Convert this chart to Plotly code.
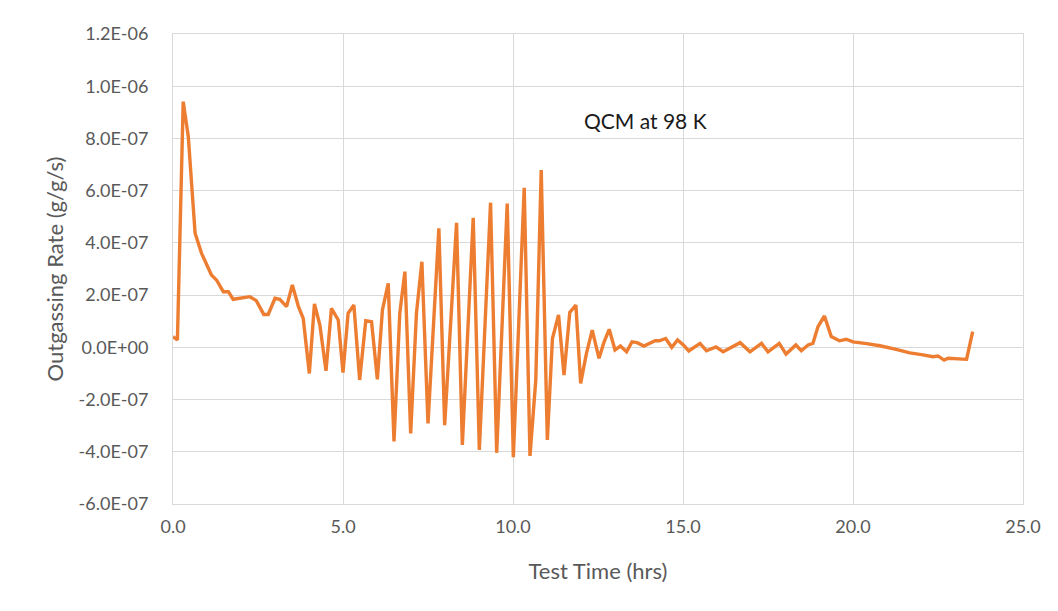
import plotly.graph_objects as go

time_hrs = [0.0, 0.13, 0.30, 0.45, 0.65, 0.84, 1.13, 1.28, 1.48, 1.63, 1.77, 2.26, 2.45, 2.67, 2.80,
            3.00, 3.14, 3.34, 3.51, 3.69, 3.83, 4.01, 4.16, 4.32, 4.50, 4.66, 4.86, 5.00, 5.15, 5.32,
            5.49, 5.67, 5.84, 6.01, 6.16, 6.33, 6.50, 6.67, 6.82, 6.99, 7.16, 7.32, 7.50, 7.65, 7.82,
            7.99, 8.17, 8.34, 8.51, 8.67, 8.83, 9.01, 9.17, 9.34, 9.52, 9.67, 9.83, 10.01, 10.17, 10.33,
            10.50, 10.67, 10.83, 11.01, 11.16, 11.34, 11.50, 11.67, 11.85, 11.99, 12.16, 12.33, 12.53,
            12.68, 12.83, 13.00, 13.16, 13.34, 13.50, 13.65, 13.85, 14.18, 14.30, 14.49, 14.67, 14.84,
            15.01, 15.17, 15.50, 15.69, 15.97, 16.18, 16.68, 16.97, 17.31, 17.50, 17.83, 18.03, 18.32,
            18.48, 18.68, 18.82, 18.97, 19.16, 19.36, 19.60, 19.80, 20.00, 20.40, 20.79, 21.27, 21.67,
            22.06, 22.35, 22.50, 22.68, 22.80, 23.34, 23.52]

# outgassing rate in units of 1E-07 g/g/s
rate_e7 = [0.41, 0.28, 9.41, 8.07, 4.37, 3.6, 2.77, 2.58, 2.13, 2.13, 1.84, 1.94, 1.79, 1.26, 1.26,
           1.88, 1.84, 1.56, 2.39, 1.56, 1.11, -1.0, 1.66, 0.85, -0.9, 1.49, 1.05, -0.97, 1.30, 1.62,
           -1.25, 1.02, 0.98, -1.23, 1.43, 2.45, -3.6, 1.3, 2.9, -3.3, 1.3, 3.28, -2.91, 0.41, 4.56,
           -2.98, 1.0, 4.77, -3.74, 0.6, 4.96, -3.93, 0.8, 5.54, -4.04, 0.8, 5.51, -4.21, 1.0, 6.11,
           -4.16, -1.25, 6.79, -3.55, 0.34, 1.24, -1.06, 1.34, 1.62, -1.38, -0.23, 0.66, -0.42,
           0.21, 0.69, -0.1, 0.05, -0.17, 0.21, 0.18, 0.05, 0.25, 0.25, 0.34, 0.0, 0.28,
           0.09, -0.14, 0.15, -0.13, 0.02, -0.17, 0.18, -0.17, 0.15, -0.17, 0.15, -0.26, 0.09,
           -0.13, 0.09, 0.15, 0.79, 1.2, 0.41, 0.25, 0.31, 0.21, 0.14, 0.06, -0.08, -0.21,
           -0.29, -0.36, -0.33, -0.49, -0.42, -0.46, 0.6]

rate = [v * 1e-7 for v in rate_e7]

y_tickvals = [1.2e-6, 1.0e-6, 8e-7, 6e-7, 4e-7, 2e-7, 0.0, -2e-7, -4e-7, -6e-7]
y_ticktext = ["1.2E-06", "1.0E-06", "8.0E-07", "6.0E-07", "4.0E-07", "2.0E-07", "0.0E+00",
              "-2.0E-07", "-4.0E-07", "-6.0E-07"]
x_tickvals = [0, 5, 10, 15, 20, 25]

font_family = "Lato, 'Open Sans', sans-serif"
tick_color = "#595959"

fig = go.Figure()
fig.add_trace(go.Scatter(
    x=time_hrs, y=rate, mode="lines",
    line=dict(color="#ED7D31", width=3.4),
    showlegend=False,
))

fig.update_layout(
    width=1050, height=603,
    margin=dict(l=165, r=35, t=26, b=107),
    paper_bgcolor="white", plot_bgcolor="white",
    font=dict(family=font_family, color=tick_color),
    xaxis=dict(
        range=[0, 25], tickvals=x_tickvals, tickformat=".1f",
        showgrid=True, gridcolor="#d9d9d9", gridwidth=1,
        showline=True, linecolor="#d9d9d9", linewidth=1, mirror=True,
        zeroline=False, ticks="", tickfont=dict(size=18, color=tick_color),
        ticklabelstandoff=6,
        title=dict(text="Test Time (hrs)", font=dict(size=22, color=tick_color), standoff=28),
    ),
    yaxis=dict(
        range=[-6e-7, 1.2e-6], tickvals=y_tickvals, ticktext=y_ticktext,
        showgrid=True, gridcolor="#d9d9d9", gridwidth=1,
        showline=True, linecolor="#d9d9d9", linewidth=1, mirror=True,
        zeroline=False, ticks="", tickfont=dict(size=18, color=tick_color),
        ticklabelstandoff=20,
        title=dict(text="Outgassing Rate (g/g/s)", font=dict(size=22, color=tick_color), standoff=8),
    ),
    annotations=[dict(
        x=13.9, y=8.7e-7, xref="x", yref="y", text="QCM at 98 K", showarrow=False,
        font=dict(size=21, color="#1a1a1a", family=font_family),
    )],
    shapes=[dict(type="line", xref="paper", yref="paper", x0=-0.195, x1=-0.195, y0=-0.19, y1=1.06,
                 line=dict(color="#dddddd", width=1.5))],
)

fig.write_html("out.html")
